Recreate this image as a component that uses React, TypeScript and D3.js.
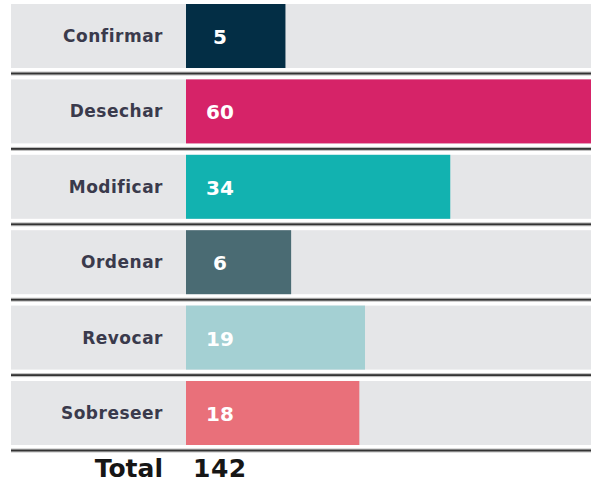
import React from "react";
import * as d3 from "d3";

const categories = ["Confirmar", "Desechar", "Modificar", "Ordenar", "Revocar", "Sobreseer"];
const values = [5, 60, 34, 6, 19, 18];
const colors = ["#032E45", "#D62368", "#12B2B0", "#4A6B73", "#A4D0D3", "#E9707A"];
const totalLabel = "Total";
const totalValue = 142;

const W = 591;
const H = 482;

export default function App() {
  const x = d3.scaleLinear().domain([-12.5, 60]).range([186, 598]);
  const y = d3
    .scaleBand<string>()
    .domain(categories)
    .range([4, 445])
    .paddingInner(0.151)
    .paddingOuter(0);
  const bw = y.bandwidth();
  const font = "'DejaVu Sans', sans-serif";

  return (
    <svg
      width={W}
      height={H}
      style={{ position: "absolute", left: 0, top: 0, background: "#fff" }}
    >
      {categories.map((c, i) => {
        const y0 = y(c)!;
        const ly = y0 + bw + 5.5;
        return (
          <g key={c}>
            <rect x={11} y={y0} width={W - 11} height={bw} fill="#E5E6E8" />
            <rect
              x={x(-12.5)}
              y={y0}
              width={Math.max(0, Math.min(x(values[i]), W) - x(-12.5))}
              height={bw}
              fill={colors[i]}
            />
            <text
              x={163}
              y={y0 + bw / 2 + 6}
              textAnchor="end"
              fontFamily={font}
              fontWeight="bold"
              fontSize={17}
              letterSpacing={0.5}
              fill="#3A3A4C"
            >
              {c}
            </text>
            <text
              x={220}
              y={y0 + bw / 2 + 8}
              textAnchor="middle"
              fontFamily={font}
              fontWeight="bold"
              fontSize={20}
              fill="#FFFFFF"
            >
              {values[i]}
            </text>
            <rect x={11} y={ly - 2} width={W - 11} height={4} fill="#BDBDBD" />
            <rect x={11} y={ly - 0.9} width={W - 11} height={1.8} fill="#333333" />
          </g>
        );
      })}
      <text
        x={163}
        y={477}
        textAnchor="end"
        fontFamily={font}
        fontWeight="bold"
        fontSize={25}
        fill="#161616"
      >
        {totalLabel}
      </text>
      <text
        x={193}
        y={477}
        textAnchor="start"
        fontFamily={font}
        fontWeight="bold"
        fontSize={25}
        letterSpacing={0.5}
        fill="#161616"
      >
        {totalValue}
      </text>
    </svg>
  );
}
